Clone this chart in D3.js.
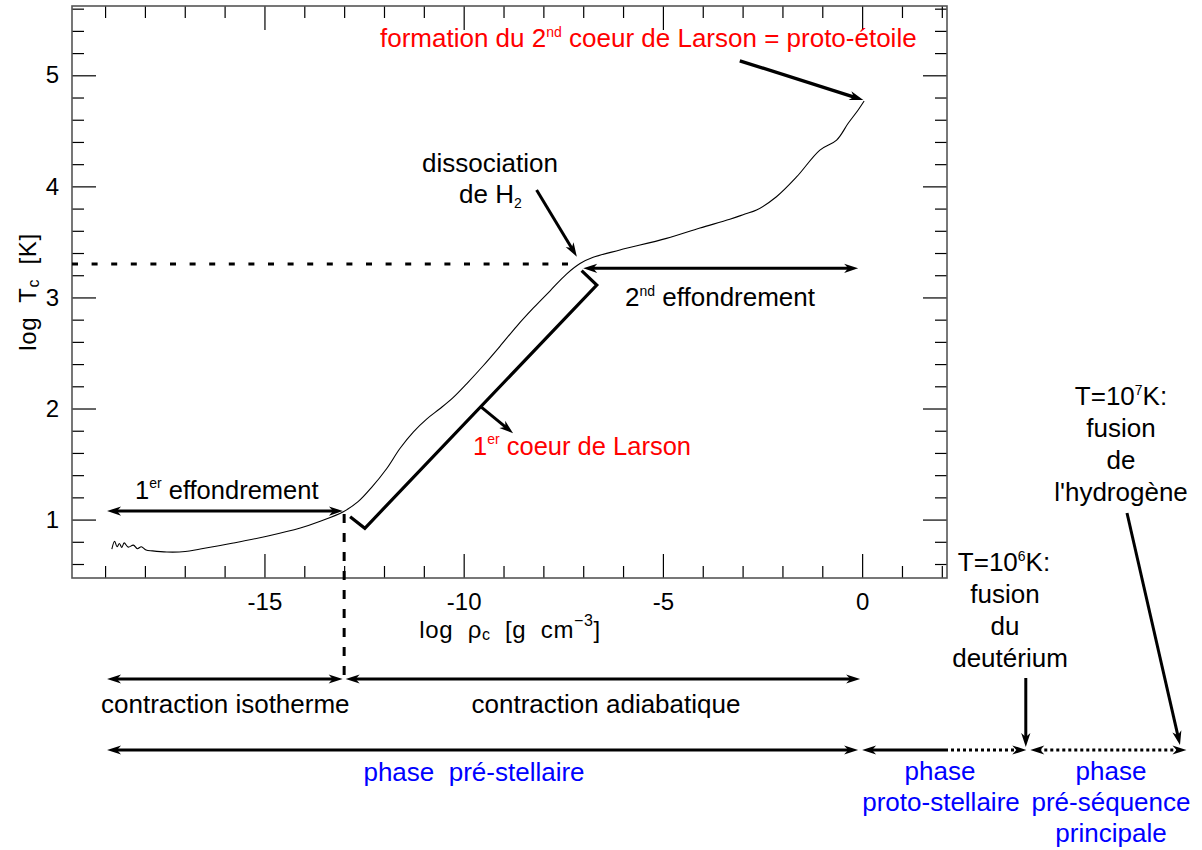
<!DOCTYPE html>
<html><head><meta charset="utf-8">
<script src="https://cdn.jsdelivr.net/npm/d3@7"></script>
<style>
body{margin:0;background:#fff;}
svg{display:block;}
text{font-family:"Liberation Sans",Arial,Helvetica,sans-serif; white-space:pre;}
</style>
</head><body>
<svg id="chart" width="1202" height="850"></svg>
<script>
// ---------- data ----------
const curveRho = [-18.83,-18.76,-18.70,-18.64,-18.58,-18.52,-18.42,-18.29,-18.19,-18.09,-17.97,-17.81,-17.45,-16.99,-16.61,-15.78,-14.94,-14.10,-13.60,-13.02,-12.65,-12.31,-11.93,-11.60,-11.26,-10.93,-10.59,-10.26,-9.92,-9.51,-9.09,-8.67,-8.25,-7.83,-7.42,-7.08,-6.75,-6.08,-4.91,-4.07,-3.32,-2.94,-2.65,-2.15,-1.64,-1.06,-0.64,-0.35,-0.10,0.05];
const curveT   = [0.735,0.805,0.755,0.785,0.748,0.790,0.752,0.770,0.738,0.755,0.726,0.718,0.708,0.712,0.735,0.789,0.850,0.924,0.985,1.071,1.161,1.290,1.460,1.640,1.790,1.905,2.000,2.100,2.225,2.385,2.560,2.740,2.905,3.060,3.210,3.305,3.361,3.427,3.532,3.625,3.704,3.751,3.787,3.907,4.087,4.327,4.417,4.568,4.688,4.769];
const xMajorTicks = [-15,-10,-5,0];
const xMinorTicks = [-19,-18,-17,-16,-14,-13,-12,-11,-9,-8,-7,-6,-4,-3,-2,-1,1,2];
const yMajorTicks = [1,2,3,4,5];
const yMinorTicks = [0.6,0.8,1.2,1.4,1.6,1.8,2.2,2.4,2.6,2.8,3.2,3.4,3.6,3.8,4.2,4.4,4.6,4.8,5.2,5.4,5.6];
const xDomain = [-19.83, 2.13];
const yDomain = [0.474, 5.624];

// key physical markers (data units)
const dissocT = 3.3;
const dissocRho = -7.1;
const isoEndRho = -13.0;
const isoEndT = 1.05;
const startRho = -18.95;
const protoRho = 0.0;
const deutRho = 4.12;
const hydroRho = 8.14;
const firstCoreBracket = [[-12.85,1.026],[-12.48,0.922],[-6.66,3.112],[-7.04,3.241]];
const firstCoreTick = [[-9.55,2.011],[-8.76,1.777]];
const firstCollapse = [[-18.95,1.077],[-13.03,1.077]];
const secondCollapse = [[-7.0,3.262],[-0.10,3.262]];
const dissocArrow = [[-8.17,3.967],[-7.16,3.367]];
const protoArrow = [[-3.07,5.131],[0.03,4.778]];

// ---------- layout ----------
const svg = d3.select("#chart");
const L = 72, T = 6, R = 947, B = 578;
const x = d3.scaleLinear().domain(xDomain).range([L, R]);
const y = d3.scaleLinear().domain(yDomain).range([B, T]);

function styleAxis(g){ g.select(".domain").remove(); g.selectAll(".tick line").attr("stroke","#000").attr("stroke-width",1.2); }
const fmt = d => String(d);
svg.append("g").attr("transform",`translate(0,${B})`)
  .call(d3.axisBottom(x).tickValues(xMajorTicks).tickSize(-24).tickPadding(15).tickFormat(fmt))
  .call(styleAxis)
  .selectAll("text").attr("font-size",24).attr("font-family","Liberation Sans, Arial, sans-serif").attr("fill","#000");
svg.append("g").attr("transform",`translate(0,${B})`)
  .call(d3.axisBottom(x).tickValues(xMinorTicks).tickSize(-12).tickFormat("")).call(styleAxis);
svg.append("g").attr("transform",`translate(0,${T})`)
  .call(d3.axisTop(x).tickValues(xMajorTicks).tickSize(-24).tickFormat("")).call(styleAxis);
svg.append("g").attr("transform",`translate(0,${T})`)
  .call(d3.axisTop(x).tickValues(xMinorTicks).tickSize(-12).tickFormat("")).call(styleAxis);
svg.append("g").attr("transform",`translate(${L},0)`)
  .call(d3.axisLeft(y).tickValues(yMajorTicks).tickSize(-24).tickPadding(13).tickFormat(fmt))
  .call(styleAxis)
  .selectAll("text").attr("font-size",24).attr("font-family","Liberation Sans, Arial, sans-serif").attr("fill","#000");
svg.append("g").attr("transform",`translate(${L},0)`)
  .call(d3.axisLeft(y).tickValues(yMinorTicks).tickSize(-12).tickFormat("")).call(styleAxis);
svg.append("g").attr("transform",`translate(${R},0)`)
  .call(d3.axisRight(y).tickValues(yMajorTicks).tickSize(-24).tickFormat("")).call(styleAxis);
svg.append("g").attr("transform",`translate(${R},0)`)
  .call(d3.axisRight(y).tickValues(yMinorTicks).tickSize(-12).tickFormat("")).call(styleAxis);

svg.append("rect").attr("x",L).attr("y",T).attr("width",R-L).attr("height",B-T)
  .attr("fill","none").attr("stroke","#555").attr("stroke-width",1.6);

// axis titles
const xt = svg.append("text").attr("x",510).attr("y",638).attr("text-anchor","middle")
  .attr("font-family","DejaVu Sans, sans-serif").attr("font-size",24).attr("letter-spacing",0.6).attr("fill","#000");
xt.append("tspan").text("log  ρ");
xt.append("tspan").attr("font-size",16).attr("dy",2).text("c");
xt.append("tspan").attr("dy",-2).text("  [g  cm");
xt.append("tspan").attr("font-size",16).attr("dy",-12).text("−3");
xt.append("tspan").attr("dy",12).text("]");

const yt = svg.append("text").attr("transform","translate(36,292) rotate(-90)").attr("text-anchor","middle")
  .attr("font-family","DejaVu Sans, sans-serif").attr("font-size",24).attr("letter-spacing",0.6).attr("fill","#000");
yt.append("tspan").text("log  T");
yt.append("tspan").attr("font-size",16).attr("dy",3).text("c");
yt.append("tspan").attr("dy",-3).text("  [K]");

// dashed guides
svg.append("line").attr("x1",L).attr("x2",x(dissocRho)).attr("y1",y(dissocT)).attr("y2",y(dissocT))
  .attr("stroke","#000").attr("stroke-width",3).attr("stroke-dasharray","6,13.6");
svg.append("line").attr("x1",x(isoEndRho)).attr("x2",x(isoEndRho)).attr("y1",y(isoEndT)).attr("y2",683)
  .attr("stroke","#000").attr("stroke-width",3).attr("stroke-dasharray","9,10");

// the curve
const line = d3.line().x(d=>x(d[0])).y(d=>y(d[1])).curve(d3.curveCatmullRom.alpha(0.5));
svg.append("path").datum(curveRho.map((r,i)=>[r,curveT[i]])).attr("d",line)
  .attr("fill","none").attr("stroke","#000").attr("stroke-width",1.1);

svg.append("path").attr("d", d3.line().x(d=>x(d[0])).y(d=>y(d[1]))(firstCoreBracket))
  .attr("fill","none").attr("stroke","#000").attr("stroke-width",3.2).attr("stroke-linejoin","miter");

function head(px,py,ang){
  const Lh=14, hw=4.6, n=4;
  const c=Math.cos(ang), s=Math.sin(ang);
  const pt=(a,b)=>[px - a*c + b*s, py - a*s - b*c];
  const p=[[px,py],pt(Lh,hw),pt(Lh-n,0),pt(Lh,-hw)];
  svg.append("path").attr("d","M"+p.map(q=>q.join(",")).join("L")+"Z").attr("fill","#000");
}
function arrow(x1,y1,x2,y2,opt={}){
  const w=opt.w||3, ang=Math.atan2(y2-y1,x2-x1);
  const c=Math.cos(ang), s=Math.sin(ang);
  const sh=8;
  const ax = opt.start? x1+c*sh : x1, ay = opt.start? y1+s*sh : y1;
  const bx = opt.end? x2-c*sh : x2, by = opt.end? y2-s*sh : y2;
  if(opt.segments){
    opt.segments.forEach(sg=>{
      const sx = Math.max(ax, sg[0]) , ex = Math.min(bx, sg[1]);
      svg.append("line").attr("x1",sx).attr("x2",ex).attr("y1",ay).attr("y2",by)
        .attr("stroke","#000").attr("stroke-width",w).attr("stroke-dasharray",sg[2]||null);
    });
  } else {
    svg.append("line").attr("x1",ax).attr("y1",ay).attr("x2",bx).attr("y2",by)
      .attr("stroke","#000").attr("stroke-width",w).attr("stroke-dasharray",opt.dash||null);
  }
  if(opt.end) head(x2,y2,ang);
  if(opt.start) head(x1,y1,ang+Math.PI);
}
const P = d => [x(d[0]), y(d[1])];

arrow(...P(firstCollapse[0]),...P(firstCollapse[1]),{start:true,end:true});
arrow(...P(secondCollapse[0]),...P(secondCollapse[1]),{start:true,end:true});
arrow(...P(dissocArrow[0]),...P(dissocArrow[1]),{end:true});
arrow(...P(protoArrow[0]),...P(protoArrow[1]),{end:true,w:3.4});
arrow(...P(firstCoreTick[0]),...P(firstCoreTick[1]),{end:true});

const yContr = 679, yPhase = 750;
arrow(x(startRho),yContr,x(isoEndRho)-1.5,yContr,{start:true,end:true});
arrow(x(isoEndRho)+1.5,yContr,x(protoRho)-2,yContr,{start:true,end:true});
arrow(x(startRho),yPhase,x(protoRho)-4,yPhase,{start:true,end:true});
arrow(x(protoRho),yPhase,x(deutRho),yPhase,{start:true,end:true,
  segments:[[0,945,null],[945,2000,"3,3"]]});
arrow(x(deutRho)+4,yPhase,x(hydroRho),yPhase,{start:true,end:true,dash:"3,3"});
arrow(x(deutRho)-0.5,678,x(deutRho)-0.5,747,{end:true});
arrow(1127,513,1180,745,{end:true});

// ---------- texts ----------
function rich(xp,yp,parts,opt={}){
  const size=opt.size||26;
  const t=svg.append("text").attr("x",xp).attr("y",yp).attr("font-size",size)
    .attr("fill",opt.color||"#000").attr("text-anchor",opt.anchor||"start");
  let cur=0;
  parts.forEach(p=>{
    const [txt,type]=Array.isArray(p)?p:[p,"n"];
    let target=0, fs=size;
    if(type==="sup"){target=-(opt.supShift||9); fs=14;}
    if(type==="sub"){target=5; fs=14;}
    t.append("tspan").attr("dy",target-cur).attr("font-size",fs).text(txt);
    cur=target;
  });
  return t;
}
const RED="#ff0000", BLUE="#0000ff";
rich(380,47,["formation du 2",["nd","sup"]," coeur de Larson = proto-étoile"],{color:RED,supShift:10});
rich(490,172,["dissociation"],{anchor:"middle"});
rich(459,203,["de H",["2","sub"]]);
rich(625,306,["2",["nd","sup"]," effondrement"],{supShift:10});
rich(135,499,["1",["er","sup"]," effondrement"],{supShift:11,size:25.5});
rich(473,455,["1",["er","sup"]," coeur de Larson"],{color:RED,supShift:11,size:25.5});
rich(101,713,["contraction isotherme"]);
rich(606,713,["contraction adiabatique"],{anchor:"middle"});
rich(474,781,["phase  pré-stellaire"],{anchor:"middle",color:BLUE});
rich(940,780,["phase"],{anchor:"middle",color:BLUE});
rich(941,811,["proto-stellaire"],{anchor:"middle",color:BLUE});
rich(1111,780,["phase"],{anchor:"middle",color:BLUE});
rich(1111,811,["pré-séquence"],{anchor:"middle",color:BLUE});
rich(1111,842,["principale"],{anchor:"middle",color:BLUE});
rich(1004,571,["T=10",["6","sup"],"K:"],{anchor:"middle",supShift:10});
rich(1005,603,["fusion"],{anchor:"middle"});
rich(1005,635,["du"],{anchor:"middle"});
rich(1010,667,["deutérium"],{anchor:"middle"});
rich(1121,405,["T=10",["7","sup"],"K:"],{anchor:"middle",supShift:10});
rich(1121,437,["fusion"],{anchor:"middle"});
rich(1121,469,["de"],{anchor:"middle"});
rich(1121,501,["l'hydrogène"],{anchor:"middle"});
</script>
</body></html>
